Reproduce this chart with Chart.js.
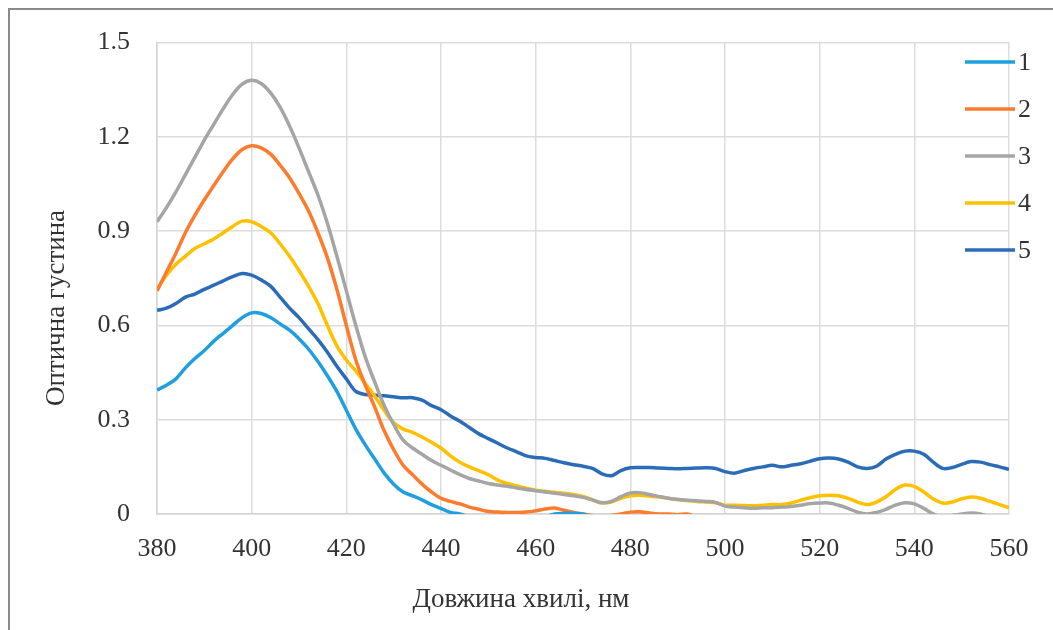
<!DOCTYPE html>
<html>
<head>
<meta charset="utf-8">
<script src="https://cdn.jsdelivr.net/npm/chart.js@4.4.1/dist/chart.umd.min.js"></script>
<style>
html,body{margin:0;padding:0;background:#fff;}
#wrap{position:relative;width:1053px;height:630px;}
</style>
</head>
<body>
<div id="wrap"><canvas id="c" width="1053" height="630"></canvas></div>
<script>
// Wavelengths (nm), 2 nm step
const wavelengths = [];
for (let w = 380; w <= 560; w += 2) wavelengths.push(w);

const seriesLabels = ['1', '2', '3', '4', '5'];
const seriesColors = ['#1f9fe0', '#fd7b2d', '#a5a5a5', '#ffc000', '#2b6cb8'];

const s1 = [0.395,0.41,0.43,0.465,0.495,0.52,0.55,0.575,0.60,0.625,
0.64,0.638,0.625,0.605,0.585,0.558,0.525,0.485,0.44,0.39,
0.33,0.27,0.22,0.175,0.13,0.095,0.07,0.058,0.045,0.03,
0.018,0.005,0.0,-0.01,-0.02,-0.02,-0.02,-0.02,-0.02,-0.02,
-0.02,-0.01,0.0,0.002,0.002,0.0,-0.01,-0.02,-0.02,-0.02,
-0.02,-0.02,-0.02,-0.02,-0.02,-0.02,-0.02,-0.02,-0.02,-0.02,
-0.02,-0.02,-0.02,-0.02,-0.02,-0.02,-0.02,-0.02,-0.02,-0.02,
-0.02,-0.02,-0.02,-0.02,-0.02,-0.02,-0.02,-0.02,-0.02,-0.02,
-0.02,-0.02,-0.02,-0.02,-0.02,-0.02,-0.02,-0.02,-0.02,-0.02,
-0.02];

const s2 = [0.71,0.77,0.83,0.895,0.95,1.00,1.045,1.09,1.13,1.16,
1.172,1.165,1.145,1.11,1.07,1.02,0.965,0.895,0.815,0.715,
0.60,0.49,0.41,0.34,0.265,0.205,0.155,0.125,0.095,0.07,
0.05,0.04,0.032,0.022,0.015,0.008,0.006,0.005,0.005,0.006,
0.01,0.016,0.019,0.012,0.005,0.0,-0.005,-0.01,-0.005,0.0,
0.006,0.007,0.003,0.0,0.0,-0.002,0.0,-0.01,-0.02,-0.02,
-0.02,-0.02,-0.02,-0.02,-0.02,-0.02,-0.02,-0.02,-0.02,-0.02,
-0.02,-0.02,-0.02,-0.02,-0.02,-0.02,-0.02,-0.02,-0.02,-0.02,
-0.02,-0.02,-0.02,-0.02,-0.02,-0.02,-0.02,-0.02,-0.02,-0.02,
-0.02];

const s3 = [0.93,0.975,1.025,1.08,1.135,1.19,1.24,1.29,1.335,1.368,
1.38,1.37,1.34,1.295,1.235,1.165,1.09,1.015,0.925,0.82,
0.71,0.60,0.50,0.42,0.345,0.285,0.235,0.21,0.19,0.17,
0.155,0.14,0.125,0.113,0.105,0.097,0.092,0.088,0.083,0.078,
0.074,0.07,0.066,0.062,0.058,0.053,0.045,0.036,0.04,0.055,
0.067,0.068,0.062,0.056,0.05,0.046,0.044,0.042,0.04,0.037,
0.025,0.022,0.02,0.018,0.02,0.02,0.022,0.024,0.028,0.033,
0.035,0.035,0.028,0.018,0.006,0.0,0.005,0.015,0.028,0.036,
0.032,0.018,0.0,-0.01,-0.005,0.0,0.003,0.0,-0.01,-0.02,
-0.02];

const s4 = [0.715,0.76,0.795,0.82,0.845,0.86,0.875,0.895,0.915,0.932,
0.93,0.915,0.895,0.86,0.82,0.775,0.725,0.67,0.60,0.535,
0.49,0.455,0.415,0.375,0.33,0.29,0.27,0.26,0.245,0.228,
0.21,0.185,0.165,0.15,0.138,0.125,0.108,0.097,0.09,0.082,
0.076,0.072,0.069,0.066,0.062,0.056,0.045,0.035,0.038,0.05,
0.058,0.06,0.057,0.054,0.05,0.046,0.043,0.04,0.038,0.036,
0.028,0.028,0.027,0.026,0.028,0.03,0.03,0.035,0.044,0.052,
0.058,0.06,0.058,0.05,0.038,0.03,0.038,0.055,0.078,0.092,
0.088,0.07,0.048,0.035,0.038,0.048,0.054,0.05,0.04,0.03,
0.02];

const s5 = [0.648,0.655,0.67,0.69,0.70,0.715,0.728,0.742,0.755,0.765,
0.76,0.745,0.725,0.69,0.655,0.625,0.59,0.555,0.515,0.47,
0.43,0.39,0.38,0.378,0.376,0.373,0.37,0.37,0.362,0.345,
0.332,0.312,0.295,0.275,0.255,0.24,0.225,0.21,0.198,0.185,
0.18,0.177,0.17,0.163,0.157,0.152,0.145,0.128,0.122,0.138,
0.147,0.148,0.148,0.146,0.145,0.144,0.145,0.146,0.147,0.145,
0.135,0.13,0.138,0.145,0.15,0.155,0.15,0.155,0.16,0.168,
0.176,0.178,0.175,0.165,0.15,0.145,0.152,0.175,0.19,0.20,
0.20,0.19,0.165,0.145,0.148,0.158,0.167,0.165,0.157,0.15,
0.142];

const seriesValues = [s1, s2, s3, s4, s5];
const xTickValues = [380, 400, 420, 440, 460, 480, 500, 520, 540, 560];
const yTickValues = [0, 0.3, 0.6, 0.9, 1.2, 1.5];
const yTickLabels = ['0', '0.3', '0.6', '0.9', '1.2', '1.5'];
const xTitle = 'Довжина хвилі, нм';
const yTitle = 'Оптична густина';

const FONT = '"Liberation Serif", "Times New Roman", serif';
const TXT = '#333333';

const datasets = seriesValues.map((vals, k) => ({
  label: seriesLabels[k],
  data: wavelengths.map((w, i) => ({x: w, y: vals[i]})),
  borderColor: seriesColors[k],
  backgroundColor: seriesColors[k],
  borderWidth: 3.5,
  pointRadius: 0,
  tension: 0.35,
  clip: 0,
  fill: false
}));

const decor = {
  id: 'decor',
  beforeDraw(chart) {
    const ctx = chart.ctx;
    ctx.save();
    ctx.fillStyle = '#fff';
    ctx.fillRect(0, 0, chart.width, chart.height);
    ctx.strokeStyle = '#8a8a8a';
    ctx.lineWidth = 2;
    ctx.beginPath();
    ctx.moveTo(9, 630); ctx.lineTo(9, 9); ctx.lineTo(1053, 9);
    ctx.stroke();
    ctx.restore();
  },
  afterDraw(chart) {
    const ctx = chart.ctx;
    ctx.save();
    ctx.fillStyle = TXT;
    ctx.font = '27px ' + FONT;
    ctx.textAlign = 'center';
    ctx.textBaseline = 'middle';
    ctx.fillText(xTitle, 521, 600);
    ctx.translate(57, 308);
    ctx.rotate(-Math.PI / 2);
    ctx.fillText(yTitle, 0, 0);
    ctx.restore();
    // legend
    ctx.save();
    ctx.font = '26px ' + FONT;
    ctx.textAlign = 'left';
    ctx.textBaseline = 'middle';
    chart.data.datasets.forEach((ds, k) => {
      const y = 62 + k * 47;
      ctx.strokeStyle = ds.borderColor;
      ctx.lineWidth = 3.5;
      ctx.beginPath();
      ctx.moveTo(965, y); ctx.lineTo(1015, y);
      ctx.stroke();
      ctx.fillStyle = TXT;
      ctx.fillText(ds.label, 1018, y + 1);
    });
    ctx.restore();
  }
};

new Chart(document.getElementById('c'), {
  type: 'line',
  data: { datasets },
  plugins: [decor],
  options: {
    responsive: false,
    animation: false,
    devicePixelRatio: 1,
    layout: { padding: { left: 10, right: 44, top: 38, bottom: 0 } },
    plugins: { legend: { display: false }, tooltip: { enabled: false } },
    scales: {
      x: {
        type: 'linear',
        min: 380, max: 560,
        afterBuildTicks(s) { s.ticks = xTickValues.map(v => ({value: v})); },
        afterFit(s) { s.height = 116; },
        grid: { color: '#dcdcdc', lineWidth: 1.5, drawTicks: false },
        border: { color: '#d4d4d4', width: 1.5 },
        ticks: { color: TXT, font: { family: FONT, size: 26 }, padding: 20, maxRotation: 0,
                 callback: v => String(v) }
      },
      y: {
        type: 'linear',
        min: 0, max: 1.5,
        afterBuildTicks(s) { s.ticks = yTickValues.map(v => ({value: v})); },
        afterFit(s) { s.width = 147; },
        grid: { color: '#dcdcdc', lineWidth: 1.5, drawTicks: false },
        border: { color: '#d4d4d4', width: 1.5 },
        ticks: { color: TXT, font: { family: FONT, size: 26 }, padding: 27,
                 callback: v => yTickLabels[yTickValues.findIndex(t => Math.abs(t - v) < 1e-6)] }
      }
    }
  }
});
</script>
</body>
</html>
